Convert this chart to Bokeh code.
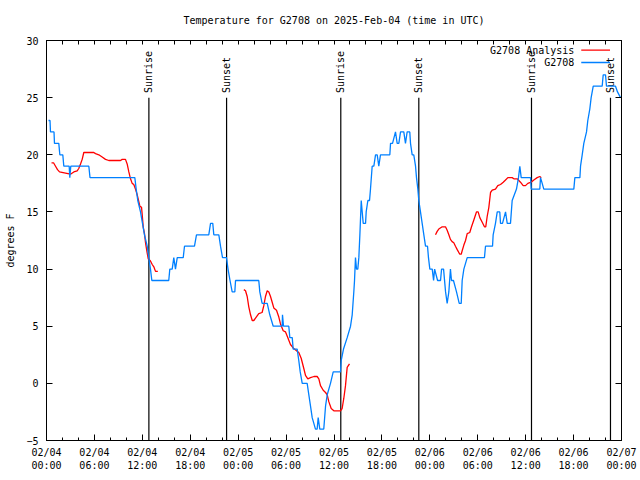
import numpy as np
import pandas as pd
from bokeh.plotting import figure
from bokeh.models import Range1d, FixedTicker, LinearAxis
from bokeh.core.properties import value
from bokeh.embed import file_html
from bokeh.resources import INLINE

FONT = "DejaVu Sans Mono"
FS = "10px"

# ---------------- data ----------------
title_text = "Temperature for G2708 on 2025-Feb-04 (time in UTC)"
start_time = "2025-02-04 00:00"
span_hours = 72

tick_labels = ["02/04\n00:00", "02/04\n06:00", "02/04\n12:00", "02/04\n18:00",
               "02/05\n00:00", "02/05\n06:00", "02/05\n12:00", "02/05\n18:00",
               "02/06\n00:00", "02/06\n06:00", "02/06\n12:00", "02/06\n18:00",
               "02/07\n00:00"]
y_ticks = [-5, 0, 5, 10, 15, 20, 25, 30]

# observed G2708 (hours since start, degrees F)
obs_hours = [0.25, 0.44, 0.5, 0.94, 1.0, 1.54, 1.67, 2.04, 2.17, 2.84, 2.92, 3.04, 5.3, 5.45,
             11.06, 11.23, 11.43, 11.77, 12.02, 12.27, 12.61, 12.81, 13.02, 13.19, 15.31, 15.44,
             15.74, 15.94, 16.15, 16.37, 17.12, 17.28, 18.53, 18.78, 20.32, 20.54, 20.82, 20.95,
             21.58, 21.79, 22.04, 22.54, 22.73, 22.98, 23.25, 23.58, 23.67, 26.58, 26.71, 27.0,
             27.64, 27.96, 28.39, 29.51, 29.55, 29.68, 30.34, 30.47, 30.77, 30.89, 31.39, 31.59,
             31.77, 32.02, 32.64, 32.85, 33.06, 33.27, 33.68, 33.89, 34.02, 34.22, 34.72, 34.94,
             35.15, 35.56, 35.9, 36.81, 36.9, 37.19, 37.65, 38.07, 38.28, 38.48, 38.57, 38.69,
             38.82, 38.98, 39.11, 39.24, 39.41, 39.53, 39.66, 39.95, 40.03, 40.24, 40.45, 40.57,
             40.78, 40.99, 41.2, 41.41, 41.61, 41.82, 42.99, 43.08, 43.33, 43.7, 43.91, 44.12,
             44.33, 44.74, 44.95, 45.16, 45.49, 45.58, 45.79, 45.99, 46.21, 46.33, 46.5, 46.62,
             46.83, 47.04, 47.25, 47.46, 47.71, 47.83, 48.0, 48.3, 48.47, 48.6, 48.97, 49.34,
             49.47, 49.72, 49.97, 50.17, 50.38, 50.58, 50.71, 50.96, 51.34, 51.68, 51.93, 52.05,
             52.26, 52.68, 54.84, 54.97, 55.85, 55.93, 56.22, 56.44, 56.76, 56.85, 57.1, 57.48,
             57.69, 58.1, 58.31, 58.85, 59.1, 59.27, 59.44, 60.61, 60.69, 61.77, 61.86, 62.07,
             62.27, 66.03, 66.16, 66.79, 66.87, 67.08, 67.28, 67.62, 67.78, 68.03, 68.2, 68.46,
             69.58, 69.71, 70.0, 70.12, 71.25, 71.5, 71.88]
obs_temps = [23, 23, 22, 22, 21, 21, 20, 20, 19, 19, 18, 19, 19, 18,
             18, 17, 16, 15, 14, 13, 12, 11, 10, 9, 9, 10,
             10, 11, 10, 11, 11, 12, 12, 13, 13, 14, 14, 13,
             13, 12, 11, 11, 10, 9, 8, 8, 9, 9, 8, 7,
             7, 6, 5, 5, 6, 5, 5, 4, 4, 3, 3, 2,
             1, 0, 0, -1, -2, -3, -4, -4, -3, -4, -4, -2,
             -1, 0, 1, 1, 2, 3, 4, 5, 6, 8, 9, 11,
             10, 10, 11, 13, 16, 15, 14, 14, 15, 16, 16, 17,
             19, 19, 20, 20, 19, 20, 20, 21, 21, 22, 21, 21,
             22, 22, 21, 22, 22, 21, 20, 20, 19, 18, 17, 16,
             15, 14, 13, 12, 12, 11, 10, 10, 9, 10, 9, 9,
             10, 10, 8, 7, 8, 10, 9, 9, 8, 7, 7, 9,
             10, 11, 11, 12, 12, 13, 14, 15, 15, 14, 14, 15,
             14, 14, 16, 17, 18, 19, 18, 18, 17, 17, 18, 17.5,
             17, 17, 18, 18, 19, 20, 21, 22, 23, 24, 25, 26,
             26, 27, 27, 26, 26, 25.5, 25]

# G2708 analysis (three separate pieces)
ana1_hours = [0.63, 0.88, 1.13, 1.38, 1.63, 2.38, 3.0, 3.42, 3.84, 4.04, 4.26, 4.47, 4.67,
              5.92, 6.14, 6.55, 6.97, 7.39, 7.8, 9.27, 9.48, 9.89, 10.1, 10.31, 10.52, 10.73,
              10.93, 11.14, 11.36, 11.56, 11.69, 11.9, 11.98, 12.11, 12.27, 12.4, 12.61, 12.74,
              13.02, 13.24, 13.44, 13.65, 13.94]
ana1_temps = [19.3, 19.3, 19.0, 18.7, 18.5, 18.4, 18.3, 18.5, 18.6, 18.8, 19.2, 19.6, 20.2,
              20.2, 20.1, 20.0, 19.8, 19.6, 19.5, 19.5, 19.6, 19.6, 19.2, 18.5, 17.9, 17.5,
              17.4, 17.0, 16.5, 15.9, 15.5, 15.4, 14.8, 13.7, 13.1, 12.3, 11.4, 10.9,
              10.7, 10.4, 10.2, 9.8, 9.8]
ana2_hours = [24.71, 24.92, 25.13, 25.33, 25.55, 25.76, 25.96, 26.17, 26.58, 27.0, 27.21,
              27.42, 27.64, 27.84, 28.05, 28.26, 28.46, 28.8, 29.09, 29.3, 29.64, 29.93, 30.22,
              30.55, 30.89, 31.39, 31.59, 31.89, 32.22, 32.43, 32.72, 33.06, 33.49, 33.89, 34.1,
              34.31, 34.65, 34.94, 35.15, 35.35, 35.65, 35.98, 36.81, 37.02, 37.23, 37.44, 37.65,
              37.94]
ana2_temps = [8.2, 8.1, 7.6, 6.7, 6.0, 5.5, 5.5, 5.7, 6.1, 6.2, 6.8,
              7.6, 8.1, 8.0, 7.6, 7.1, 6.6, 6.4, 5.8, 5.2, 4.6, 4.5, 4.0,
              3.4, 3.1, 2.8, 2.7, 2.2, 1.3, 0.7, 0.4, 0.5, 0.6, 0.6, 0.4,
              -0.2, -0.6, -0.8, -1.0, -1.6, -2.2, -2.4, -2.4, -2.2, -1.3, -0.2, 1.4,
              1.7]
ana3_hours = [48.71, 48.92, 49.12, 49.55, 49.96, 50.17, 50.38, 50.58, 50.79, 51.0, 51.21,
              51.43, 51.75, 51.93, 52.05, 52.26, 52.47, 52.68, 53.0, 53.22, 53.51, 53.84, 54.05,
              54.26, 54.56, 54.84, 55.0, 55.18, 55.39, 55.6, 55.81, 56.22, 56.51, 56.85, 57.19,
              57.48, 57.77, 58.31, 58.52, 58.94, 59.35, 59.69, 59.98, 60.27, 60.69, 61.02, 61.44,
              61.77, 61.95]
ana3_temps = [13.0, 13.3, 13.5, 13.7, 13.7, 13.4, 13.0, 12.6, 12.4, 12.3, 12.0,
              11.7, 11.3, 11.3, 11.6, 12.1, 12.5, 13.1, 13.2, 13.7, 14.3, 15.0, 15.0,
              14.5, 14.1, 13.7, 13.7, 14.6, 15.4, 16.7, 16.9, 17.0, 17.3, 17.4, 17.6,
              17.8, 18.0, 18.0, 17.9, 17.9, 17.6, 17.3, 17.3, 17.5, 17.6, 17.8, 18.0,
              18.1, 18.0]

sun_event_hours = [12.82, 22.55, 36.85, 46.62, 60.73, 70.62]
sun_event_labels = ["Sunrise", "Sunset", "Sunrise", "Sunset", "Sunrise", "Sunset"]

series_names = ["G2708 Analysis", "G2708"]
series_colors = ["#ff0000", "#0080ff"]

# ---------------- helpers ----------------
t0 = pd.Timestamp(start_time)


def to_time(hours):
    return t0 + pd.to_timedelta(np.asarray(hours, dtype=float), unit="h")


def to_ms(ts):
    return [float(pd.Timestamp(t).value // 10**6) for t in ts]


tick_ms = to_ms(to_time(np.arange(0, span_hours + 1, 6)))
minor_ms = to_ms(to_time(np.arange(0, span_hours + 1, 2)))

p = figure(width=640, height=480, x_axis_type="datetime",
           x_range=Range1d(t0, t0 + pd.Timedelta(hours=span_hours)),
           y_range=Range1d(-5, 30),
           output_backend="svg", toolbar_location=None,
           min_border_left=46, min_border_right=19, min_border_top=40, min_border_bottom=40)
p.extra_x_ranges = {"fx": Range1d(0, 1)}
p.extra_y_ranges = {"fy": Range1d(0, 1)}

p.background_fill_color = "white"
p.border_fill_color = "white"
p.outline_line_color = "black"
p.outline_line_width = 1
p.xgrid.visible = False
p.ygrid.visible = False

p.title.text = title_text
p.title.align = "center"
p.title.vertical_align = "top"
p.title.text_font = FONT
p.title.text_font_size = FS
p.title.text_font_style = "normal"
p.title.text_color = "black"
p.title.standoff = 26

xa = p.xaxis[0]
xa.ticker = FixedTicker(ticks=tick_ms, minor_ticks=minor_ms)
xa.major_label_overrides = {ms: lab for ms, lab in zip(tick_ms, tick_labels)}
xa.major_tick_in = 6
xa.major_tick_out = 0
xa.minor_tick_in = 3
xa.minor_tick_out = 0
xa.major_label_standoff = 6
xa.major_label_text_font = FONT
xa.major_label_text_font_size = FS
xa.major_label_text_color = "black"
xa.axis_line_color = "black"

ya = p.yaxis[0]
ya.ticker = FixedTicker(ticks=y_ticks)
ya.major_tick_in = 6
ya.major_tick_out = 0
ya.minor_tick_line_color = None
ya.major_label_standoff = 8
ya.major_label_text_font = FONT
ya.major_label_text_font_size = FS
ya.major_label_text_color = "black"
ya.axis_label = "degrees F"
ya.axis_label_text_font = FONT
ya.axis_label_text_font_size = FS
ya.axis_label_text_font_style = "normal"
ya.axis_label_text_color = "black"
ya.axis_label_standoff = 7
ya.axis_line_color = "black"

# mirrored tick marks (minor ticks only, so no labels are drawn)
ra = LinearAxis(ticker=FixedTicker(ticks=[], minor_ticks=y_ticks),
                major_tick_line_color=None, minor_tick_in=6, minor_tick_out=0,
                major_label_standoff=0, axis_line_color="black")
p.add_layout(ra, "right")
ta = LinearAxis(ticker=FixedTicker(ticks=[], minor_ticks=minor_ms),
                major_tick_line_color=None, minor_tick_in=4, minor_tick_out=0,
                major_label_standoff=0, axis_line_color="black")
p.add_layout(ta, "above")

# sunrise / sunset markers
sun_t = to_time(sun_event_hours)
line_top = 25.0
label_bottom = 25.4
p.segment(x0=sun_t, y0=[-5] * len(sun_t), x1=sun_t, y1=[line_top] * len(sun_t),
          line_color="black", line_width=1.2)
p.text(x=sun_t, y=[label_bottom] * len(sun_t), text=sun_event_labels, angle=np.pi / 2,
       text_align="left", text_baseline="middle", text_font=value(FONT),
       text_font_size=FS, text_color="black")

# series
for hrs, tmp in [(ana1_hours, ana1_temps), (ana2_hours, ana2_temps), (ana3_hours, ana3_temps)]:
    p.line(to_time(hrs), tmp, line_color=series_colors[0], line_width=1.3)
p.line(to_time(obs_hours), obs_temps, line_color=series_colors[1], line_width=1.3)

# legend (gnuplot style: text then sample line)
leg_y = [0.976, 0.945]
p.text(x=[0.918, 0.918], y=leg_y, text=series_names, text_align="right",
       text_baseline="middle", text_font=value(FONT), text_font_size=FS,
       text_color="black", x_range_name="fx", y_range_name="fy")
p.segment(x0=[0.93, 0.93], y0=leg_y, x1=[0.98, 0.98], y1=leg_y, line_color=series_colors,
          line_width=1.3, x_range_name="fx", y_range_name="fy")

open("out.html", "w").write(file_html(p, INLINE))
